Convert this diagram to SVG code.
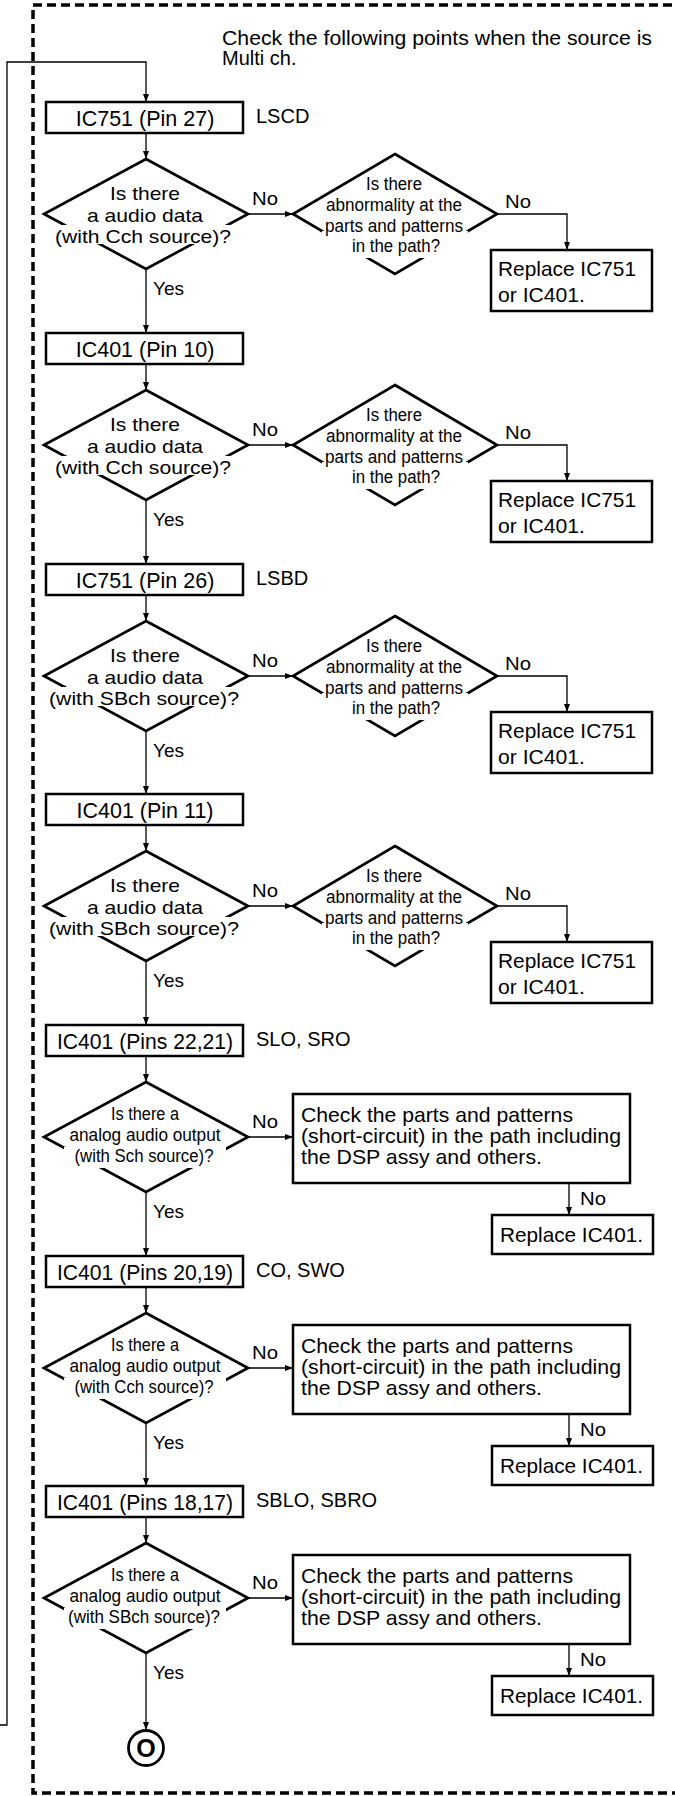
<svg xmlns="http://www.w3.org/2000/svg" width="675" height="1796" viewBox="0 0 675 1796">
<style>
.box{fill:#fff;stroke:#000;stroke-width:2.5}
.dia{fill:#fff;stroke:#000;stroke-width:2.7;stroke-linejoin:miter}
.ln{fill:none;stroke:#000;stroke-width:1.3}
.wh{fill:#fff;stroke:none}
.t{font-family:"Liberation Sans",Arial,sans-serif;fill:#000}
.bt{font-size:21.5px;text-anchor:middle}
.lb{font-size:20px}
.dt{font-size:18.5px;text-anchor:middle}
.at{font-size:17.5px;text-anchor:middle}
.ct{font-size:21px}
.yn{font-size:19px}
.border{fill:none;stroke:#000;stroke-width:3.5;stroke-dasharray:9 5}
</style>
<defs>
<marker id="ah" markerUnits="userSpaceOnUse" markerWidth="8" markerHeight="6" refX="8" refY="3" orient="auto">
<path d="M0,0 L8,3 L0,6 z" fill="#000"/>
</marker>
</defs>
<path class="border" d="M700,5 H33 V1793 H700"/>
<g id="title">
<text class="t lb" x="222" y="45" textLength="430" lengthAdjust="spacingAndGlyphs">Check the following points when the source is</text>
<text class="t lb" x="222" y="65">Multi ch.</text>
</g>
<g id="connectors">
<path class="ln" d="M0,1725 H7 V62 H146 V102" marker-end="url(#ah)"/>
<path class="ln" d="M146,133 V159" marker-end="url(#ah)"/>
<path class="ln" d="M248,214 H293" marker-end="url(#ah)"/>
<path class="ln" d="M497,214 H567 V250" marker-end="url(#ah)"/>
<path class="ln" d="M146,269 V333" marker-end="url(#ah)"/>
<path class="ln" d="M146,364 V390" marker-end="url(#ah)"/>
<path class="ln" d="M248,445 H293" marker-end="url(#ah)"/>
<path class="ln" d="M497,445 H567 V481" marker-end="url(#ah)"/>
<path class="ln" d="M146,500 V564" marker-end="url(#ah)"/>
<path class="ln" d="M146,595 V621" marker-end="url(#ah)"/>
<path class="ln" d="M248,676 H293" marker-end="url(#ah)"/>
<path class="ln" d="M497,676 H567 V712" marker-end="url(#ah)"/>
<path class="ln" d="M146,731 V794" marker-end="url(#ah)"/>
<path class="ln" d="M146,825 V851" marker-end="url(#ah)"/>
<path class="ln" d="M248,906 H293" marker-end="url(#ah)"/>
<path class="ln" d="M497,906 H567 V942" marker-end="url(#ah)"/>
<path class="ln" d="M146,961 V1025" marker-end="url(#ah)"/>
<path class="ln" d="M146,1056 V1082" marker-end="url(#ah)"/>
<path class="ln" d="M248,1137 H293" marker-end="url(#ah)"/>
<path class="ln" d="M569,1183 V1215" marker-end="url(#ah)"/>
<path class="ln" d="M146,1192 V1256" marker-end="url(#ah)"/>
<path class="ln" d="M146,1287 V1313" marker-end="url(#ah)"/>
<path class="ln" d="M248,1368 H293" marker-end="url(#ah)"/>
<path class="ln" d="M569,1414 V1446" marker-end="url(#ah)"/>
<path class="ln" d="M146,1423 V1486" marker-end="url(#ah)"/>
<path class="ln" d="M146,1517 V1543" marker-end="url(#ah)"/>
<path class="ln" d="M248,1598 H293" marker-end="url(#ah)"/>
<path class="ln" d="M569,1644 V1676" marker-end="url(#ah)"/>
<path class="ln" d="M146,1653 V1730" marker-end="url(#ah)"/>
<g class="t yn">
<text x="252" y="205" textLength="26" lengthAdjust="spacingAndGlyphs">No</text>
<text x="505" y="208" textLength="26" lengthAdjust="spacingAndGlyphs">No</text>
<text x="153" y="295" textLength="31" lengthAdjust="spacingAndGlyphs">Yes</text>
<text x="252" y="436" textLength="26" lengthAdjust="spacingAndGlyphs">No</text>
<text x="505" y="439" textLength="26" lengthAdjust="spacingAndGlyphs">No</text>
<text x="153" y="526" textLength="31" lengthAdjust="spacingAndGlyphs">Yes</text>
<text x="252" y="667" textLength="26" lengthAdjust="spacingAndGlyphs">No</text>
<text x="505" y="670" textLength="26" lengthAdjust="spacingAndGlyphs">No</text>
<text x="153" y="757" textLength="31" lengthAdjust="spacingAndGlyphs">Yes</text>
<text x="252" y="897" textLength="26" lengthAdjust="spacingAndGlyphs">No</text>
<text x="505" y="900" textLength="26" lengthAdjust="spacingAndGlyphs">No</text>
<text x="153" y="987" textLength="31" lengthAdjust="spacingAndGlyphs">Yes</text>
<text x="252" y="1128" textLength="26" lengthAdjust="spacingAndGlyphs">No</text>
<text x="580" y="1205" textLength="26" lengthAdjust="spacingAndGlyphs">No</text>
<text x="153" y="1218" textLength="31" lengthAdjust="spacingAndGlyphs">Yes</text>
<text x="252" y="1359" textLength="26" lengthAdjust="spacingAndGlyphs">No</text>
<text x="580" y="1436" textLength="26" lengthAdjust="spacingAndGlyphs">No</text>
<text x="153" y="1449" textLength="31" lengthAdjust="spacingAndGlyphs">Yes</text>
<text x="252" y="1589" textLength="26" lengthAdjust="spacingAndGlyphs">No</text>
<text x="580" y="1666" textLength="26" lengthAdjust="spacingAndGlyphs">No</text>
<text x="153" y="1679" textLength="31" lengthAdjust="spacingAndGlyphs">Yes</text>
</g>
</g>

<!-- Section 0 -->
<g id="box-ic751-pin27">
<rect class="box" x="46" y="102" width="197" height="31"/>
<text class="t bt" x="145" y="126">IC751 (Pin 27)</text>
<text class="t lb" x="256" y="123">LSCD</text>
</g>
<g id="dec-audio-1">
<polygon class="dia" points="146,159 248,214 146,269 44,214"/>
<rect class="wh" x="50" y="225" width="190" height="19"/>
<text class="t dt" x="145" y="200" textLength="70" lengthAdjust="spacingAndGlyphs">Is there</text>
<text class="t dt" x="145" y="222" textLength="116" lengthAdjust="spacingAndGlyphs">a audio data</text>
<text class="t dt" x="143" y="243" textLength="176" lengthAdjust="spacingAndGlyphs">(with Cch source)?</text>
</g>
<g id="dec-abn-1">
<polygon class="dia" points="395,154 497,214 395,274 293,214"/>
<rect class="wh" x="322" y="231" width="146" height="27"/>
<text class="t at" x="394" y="190" textLength="56" lengthAdjust="spacingAndGlyphs">Is there</text>
<text class="t at" x="394" y="211" textLength="136" lengthAdjust="spacingAndGlyphs">abnormality at the</text>
<text class="t at" x="394" y="232" textLength="138" lengthAdjust="spacingAndGlyphs">parts and patterns</text>
<text class="t at" x="396" y="252" textLength="88" lengthAdjust="spacingAndGlyphs">in the path?</text>
</g>
<g id="replace-1">
<rect class="box" x="491" y="250" width="161" height="61"/>
<text class="t ct" x="498" y="276" textLength="138" lengthAdjust="spacingAndGlyphs">Replace IC751</text>
<text class="t ct" x="498" y="302" textLength="87" lengthAdjust="spacingAndGlyphs">or IC401.</text>
</g>

<!-- Section 1 -->
<g id="box-ic401-pin10">
<rect class="box" x="46" y="333" width="197" height="31"/>
<text class="t bt" x="145" y="357">IC401 (Pin 10)</text>
</g>
<g id="dec-audio-2">
<polygon class="dia" points="146,390 248,445 146,500 44,445"/>
<rect class="wh" x="50" y="456" width="190" height="19"/>
<text class="t dt" x="145" y="431" textLength="70" lengthAdjust="spacingAndGlyphs">Is there</text>
<text class="t dt" x="145" y="453" textLength="116" lengthAdjust="spacingAndGlyphs">a audio data</text>
<text class="t dt" x="143" y="474" textLength="176" lengthAdjust="spacingAndGlyphs">(with Cch source)?</text>
</g>
<g id="dec-abn-2">
<polygon class="dia" points="395,385 497,445 395,505 293,445"/>
<rect class="wh" x="322" y="462" width="146" height="27"/>
<text class="t at" x="394" y="421" textLength="56" lengthAdjust="spacingAndGlyphs">Is there</text>
<text class="t at" x="394" y="442" textLength="136" lengthAdjust="spacingAndGlyphs">abnormality at the</text>
<text class="t at" x="394" y="463" textLength="138" lengthAdjust="spacingAndGlyphs">parts and patterns</text>
<text class="t at" x="396" y="483" textLength="88" lengthAdjust="spacingAndGlyphs">in the path?</text>
</g>
<g id="replace-2">
<rect class="box" x="491" y="481" width="161" height="61"/>
<text class="t ct" x="498" y="507" textLength="138" lengthAdjust="spacingAndGlyphs">Replace IC751</text>
<text class="t ct" x="498" y="533" textLength="87" lengthAdjust="spacingAndGlyphs">or IC401.</text>
</g>

<!-- Section 2 -->
<g id="box-ic751-pin26">
<rect class="box" x="46" y="564" width="197" height="31"/>
<text class="t bt" x="145" y="588">IC751 (Pin 26)</text>
<text class="t lb" x="256" y="585">LSBD</text>
</g>
<g id="dec-audio-3">
<polygon class="dia" points="146,621 248,676 146,731 44,676"/>
<rect class="wh" x="46" y="687" width="198" height="19"/>
<text class="t dt" x="145" y="662" textLength="70" lengthAdjust="spacingAndGlyphs">Is there</text>
<text class="t dt" x="145" y="684" textLength="116" lengthAdjust="spacingAndGlyphs">a audio data</text>
<text class="t dt" x="144" y="705" textLength="190" lengthAdjust="spacingAndGlyphs">(with SBch source)?</text>
</g>
<g id="dec-abn-3">
<polygon class="dia" points="395,616 497,676 395,736 293,676"/>
<rect class="wh" x="322" y="693" width="146" height="27"/>
<text class="t at" x="394" y="652" textLength="56" lengthAdjust="spacingAndGlyphs">Is there</text>
<text class="t at" x="394" y="673" textLength="136" lengthAdjust="spacingAndGlyphs">abnormality at the</text>
<text class="t at" x="394" y="694" textLength="138" lengthAdjust="spacingAndGlyphs">parts and patterns</text>
<text class="t at" x="396" y="714" textLength="88" lengthAdjust="spacingAndGlyphs">in the path?</text>
</g>
<g id="replace-3">
<rect class="box" x="491" y="712" width="161" height="61"/>
<text class="t ct" x="498" y="738" textLength="138" lengthAdjust="spacingAndGlyphs">Replace IC751</text>
<text class="t ct" x="498" y="764" textLength="87" lengthAdjust="spacingAndGlyphs">or IC401.</text>
</g>

<!-- Section 3 -->
<g id="box-ic401-pin11">
<rect class="box" x="46" y="794" width="197" height="31"/>
<text class="t bt" x="145" y="818">IC401 (Pin 11)</text>
</g>
<g id="dec-audio-4">
<polygon class="dia" points="146,851 248,906 146,961 44,906"/>
<rect class="wh" x="46" y="917" width="198" height="19"/>
<text class="t dt" x="145" y="892" textLength="70" lengthAdjust="spacingAndGlyphs">Is there</text>
<text class="t dt" x="145" y="914" textLength="116" lengthAdjust="spacingAndGlyphs">a audio data</text>
<text class="t dt" x="144" y="935" textLength="190" lengthAdjust="spacingAndGlyphs">(with SBch source)?</text>
</g>
<g id="dec-abn-4">
<polygon class="dia" points="395,846 497,906 395,966 293,906"/>
<rect class="wh" x="322" y="923" width="146" height="27"/>
<text class="t at" x="394" y="882" textLength="56" lengthAdjust="spacingAndGlyphs">Is there</text>
<text class="t at" x="394" y="903" textLength="136" lengthAdjust="spacingAndGlyphs">abnormality at the</text>
<text class="t at" x="394" y="924" textLength="138" lengthAdjust="spacingAndGlyphs">parts and patterns</text>
<text class="t at" x="396" y="944" textLength="88" lengthAdjust="spacingAndGlyphs">in the path?</text>
</g>
<g id="replace-4">
<rect class="box" x="491" y="942" width="161" height="61"/>
<text class="t ct" x="498" y="968" textLength="138" lengthAdjust="spacingAndGlyphs">Replace IC751</text>
<text class="t ct" x="498" y="994" textLength="87" lengthAdjust="spacingAndGlyphs">or IC401.</text>
</g>

<!-- Section 4 -->
<g id="box-ic401-pins22-21">
<rect class="box" x="46" y="1025" width="197" height="31"/>
<text class="t bt" x="145" y="1049" textLength="176" lengthAdjust="spacingAndGlyphs">IC401 (Pins 22,21)</text>
<text class="t lb" x="256" y="1046">SLO, SRO</text>
</g>
<g id="dec-analog-1">
<polygon class="dia" points="146,1082 248,1137 146,1192 44,1137"/>
<rect class="wh" x="64" y="1147" width="162" height="21"/>
<text class="t at" x="145" y="1120" textLength="68" lengthAdjust="spacingAndGlyphs">Is there a</text>
<text class="t at" x="145" y="1141" textLength="151" lengthAdjust="spacingAndGlyphs">analog audio output</text>
<text class="t at" x="144" y="1162" textLength="139" lengthAdjust="spacingAndGlyphs">(with Sch source)?</text>
</g>
<g id="check-1">
<rect class="box" x="293" y="1094" width="337" height="89"/>
<text class="t ct" x="301" y="1122" textLength="272" lengthAdjust="spacingAndGlyphs">Check the parts and patterns</text>
<text class="t ct" x="301" y="1143" textLength="320" lengthAdjust="spacingAndGlyphs">(short-circuit) in the path including</text>
<text class="t ct" x="301" y="1164" textLength="241" lengthAdjust="spacingAndGlyphs">the DSP assy and others.</text>
</g>
<g id="replace-5">
<rect class="box" x="492" y="1215" width="161" height="39"/>
<text class="t ct" x="500" y="1242" textLength="143" lengthAdjust="spacingAndGlyphs">Replace IC401.</text>
</g>

<!-- Section 5 -->
<g id="box-ic401-pins20-19">
<rect class="box" x="46" y="1256" width="197" height="31"/>
<text class="t bt" x="145" y="1280" textLength="176" lengthAdjust="spacingAndGlyphs">IC401 (Pins 20,19)</text>
<text class="t lb" x="256" y="1277">CO, SWO</text>
</g>
<g id="dec-analog-2">
<polygon class="dia" points="146,1313 248,1368 146,1423 44,1368"/>
<rect class="wh" x="64" y="1378" width="162" height="21"/>
<text class="t at" x="145" y="1351" textLength="68" lengthAdjust="spacingAndGlyphs">Is there a</text>
<text class="t at" x="145" y="1372" textLength="151" lengthAdjust="spacingAndGlyphs">analog audio output</text>
<text class="t at" x="144" y="1393" textLength="139" lengthAdjust="spacingAndGlyphs">(with Cch source)?</text>
</g>
<g id="check-2">
<rect class="box" x="293" y="1325" width="337" height="89"/>
<text class="t ct" x="301" y="1353" textLength="272" lengthAdjust="spacingAndGlyphs">Check the parts and patterns</text>
<text class="t ct" x="301" y="1374" textLength="320" lengthAdjust="spacingAndGlyphs">(short-circuit) in the path including</text>
<text class="t ct" x="301" y="1395" textLength="241" lengthAdjust="spacingAndGlyphs">the DSP assy and others.</text>
</g>
<g id="replace-6">
<rect class="box" x="492" y="1446" width="161" height="39"/>
<text class="t ct" x="500" y="1473" textLength="143" lengthAdjust="spacingAndGlyphs">Replace IC401.</text>
</g>

<!-- Section 6 -->
<g id="box-ic401-pins18-17">
<rect class="box" x="46" y="1486" width="197" height="31"/>
<text class="t bt" x="145" y="1510" textLength="176" lengthAdjust="spacingAndGlyphs">IC401 (Pins 18,17)</text>
<text class="t lb" x="256" y="1507">SBLO, SBRO</text>
</g>
<g id="dec-analog-3">
<polygon class="dia" points="146,1543 248,1598 146,1653 44,1598"/>
<rect class="wh" x="64" y="1608" width="162" height="21"/>
<text class="t at" x="145" y="1581" textLength="68" lengthAdjust="spacingAndGlyphs">Is there a</text>
<text class="t at" x="145" y="1602" textLength="151" lengthAdjust="spacingAndGlyphs">analog audio output</text>
<text class="t at" x="144" y="1623" textLength="152" lengthAdjust="spacingAndGlyphs">(with SBch source)?</text>
</g>
<g id="check-3">
<rect class="box" x="293" y="1555" width="337" height="89"/>
<text class="t ct" x="301" y="1583" textLength="272" lengthAdjust="spacingAndGlyphs">Check the parts and patterns</text>
<text class="t ct" x="301" y="1604" textLength="320" lengthAdjust="spacingAndGlyphs">(short-circuit) in the path including</text>
<text class="t ct" x="301" y="1625" textLength="241" lengthAdjust="spacingAndGlyphs">the DSP assy and others.</text>
</g>
<g id="replace-7">
<rect class="box" x="492" y="1676" width="161" height="39"/>
<text class="t ct" x="500" y="1703" textLength="143" lengthAdjust="spacingAndGlyphs">Replace IC401.</text>
</g>

<g id="terminal-o">
<circle cx="146" cy="1748" r="17.5" fill="#fff" stroke="#000" stroke-width="2.8"/>
<text class="t" x="146" y="1757" font-size="25" font-weight="bold" text-anchor="middle">O</text>
</g>
</svg>
